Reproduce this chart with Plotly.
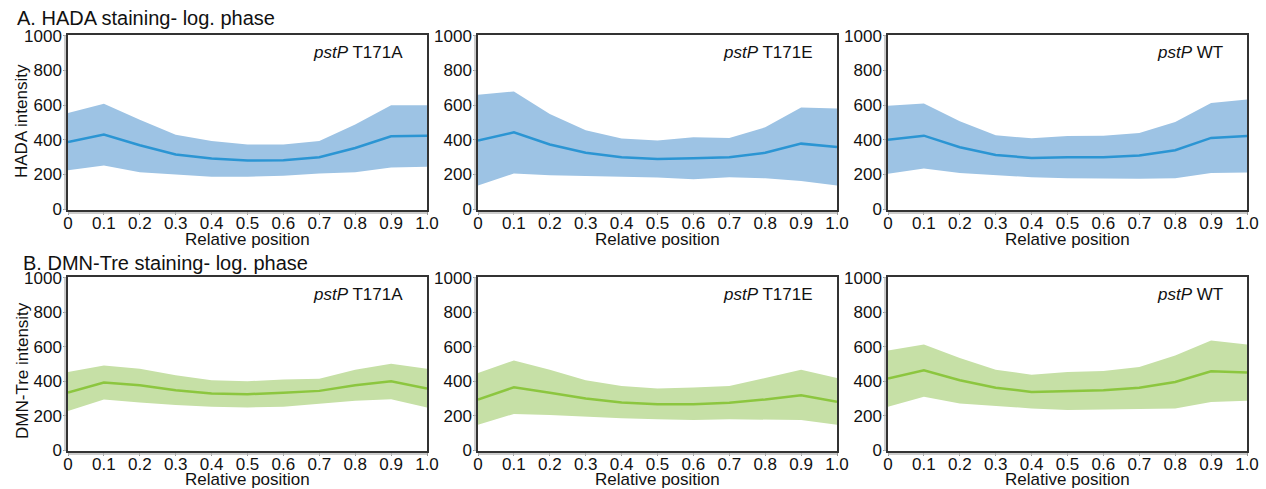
import plotly.graph_objects as go

positions = [0, 0.1, 0.2, 0.3, 0.4, 0.5, 0.6, 0.7, 0.8, 0.9, 1.0]
tick_labels = ["0", "0.1", "0.2", "0.3", "0.4", "0.5", "0.6", "0.7", "0.8", "0.9", "1.0"]
strains = ["T171A", "T171E", "WT"]

# HADA staining (row A)
hada_t171a_mean = [388, 430, 369, 315, 292, 280, 282, 300, 353, 420, 423]
hada_t171a_upper = [555, 608, 516, 430, 393, 373, 373, 393, 488, 600, 600]
hada_t171a_lower = [225, 252, 213, 200, 187, 187, 192, 206, 213, 240, 244]

hada_t171e_mean = [396, 443, 373, 325, 300, 290, 294, 300, 325, 378, 358]
hada_t171e_upper = [660, 679, 549, 455, 407, 396, 415, 411, 472, 587, 581]
hada_t171e_lower = [137, 206, 196, 192, 188, 182, 173, 184, 178, 163, 137]

hada_wt_mean = [401, 424, 357, 313, 295, 300, 300, 309, 340, 411, 422]
hada_wt_upper = [597, 610, 507, 426, 409, 422, 424, 439, 503, 612, 633]
hada_wt_lower = [204, 234, 208, 196, 184, 178, 176, 175, 178, 208, 211]

# DMN-Tre staining (row B)
dmn_t171a_mean = [335, 392, 377, 348, 329, 325, 333, 344, 377, 400, 358]
dmn_t171a_upper = [454, 492, 473, 435, 406, 400, 410, 415, 467, 502, 473]
dmn_t171a_lower = [227, 294, 277, 262, 252, 248, 252, 271, 287, 296, 248]

dmn_t171e_mean = [294, 365, 333, 300, 277, 267, 267, 275, 294, 319, 281]
dmn_t171e_upper = [448, 521, 467, 406, 373, 358, 363, 373, 419, 467, 419]
dmn_t171e_lower = [148, 210, 204, 194, 185, 179, 175, 179, 177, 175, 148]

dmn_wt_mean = [415, 463, 406, 362, 338, 342, 348, 362, 396, 458, 450]
dmn_wt_upper = [579, 613, 535, 467, 438, 454, 460, 483, 550, 637, 613]
dmn_wt_lower = [252, 310, 271, 256, 242, 233, 237, 237, 242, 279, 287]

rows = [
    dict(title="A. HADA staining- log. phase", ylabel="HADA intensity",
         line="#2B95D3", fill="#9DC3E4",
         data=[(hada_t171a_mean, hada_t171a_upper, hada_t171a_lower),
               (hada_t171e_mean, hada_t171e_upper, hada_t171e_lower),
               (hada_wt_mean, hada_wt_upper, hada_wt_lower)]),
    dict(title="B. DMN-Tre staining- log. phase", ylabel="DMN-Tre intensity",
         line="#8CC63F", fill="#C6E0A6",
         data=[(dmn_t171a_mean, dmn_t171a_upper, dmn_t171a_lower),
               (dmn_t171e_mean, dmn_t171e_upper, dmn_t171e_lower),
               (dmn_wt_mean, dmn_wt_upper, dmn_wt_lower)]),
]

W, H = 1266, 489
col_px = [(68, 427), (478, 837), (888, 1247)]
row_px = [(35, 210), (277, 451)]
title_pos = [(15, 18), (21, 263)]
xtitle_y = [239, 479]
ytitle_x = 22
ytitle_y = [121, 371]

FONT = "Liberation Sans, Arial, sans-serif"
TXT = "#111111"
fig = go.Figure()
annotations = []
shapes = []

k = 0
for r, row in enumerate(rows):
    top, bot = row_px[r]
    ydom = [1 - bot / H, 1 - top / H]
    for c in range(3):
        k += 1
        xa = "x" if k == 1 else f"x{k}"
        ya = "y" if k == 1 else f"y{k}"
        mean, upper, lower = row["data"][c]
        fig.add_trace(go.Scatter(x=positions, y=lower, mode="lines", line=dict(width=0, color=row["fill"]),
                                 showlegend=False, hoverinfo="skip", xaxis=xa, yaxis=ya))
        fig.add_trace(go.Scatter(x=positions, y=upper, mode="lines", line=dict(width=0, color=row["fill"]),
                                 fill="tonexty", fillcolor=row["fill"], showlegend=False,
                                 hoverinfo="skip", xaxis=xa, yaxis=ya))
        fig.add_trace(go.Scatter(x=positions, y=mean, mode="lines", line=dict(width=2.5, color=row["line"]),
                                 showlegend=False, xaxis=xa, yaxis=ya))
        l, rr = col_px[c]
        xdom = [l / W, rr / W]
        axkey = "xaxis" if k == 1 else f"xaxis{k}"
        aykey = "yaxis" if k == 1 else f"yaxis{k}"
        fig.layout[axkey] = dict(
            domain=xdom, anchor=ya, range=[0, 1.0], tickvals=positions, ticktext=tick_labels,
            automargin=False,
            showgrid=False, zeroline=False, showline=True, linecolor="#333333", linewidth=1.5,
            mirror=True, ticks="outside", ticklen=3, tickcolor="#999999",
            ticklabelstandoff=-6,
            tickfont=dict(family=FONT, size=17, color=TXT),
        )
        fig.layout[aykey] = dict(
            domain=ydom, anchor=xa, range=[-5, 1005], tickvals=[0, 200, 400, 600, 800, 1000],
            automargin=False,
            showgrid=False, zeroline=False, showline=True, linecolor="#333333", linewidth=1.5,
            mirror=True, ticks="outside", ticklen=3, tickcolor="#999999",
            ticklabelstandoff=-2,
            tickfont=dict(family=FONT, size=17, color=TXT),
        )
        # light grey double axis band at left and bottom
        shapes.append(dict(type="line", xref=f"{xa} domain", yref=f"{ya} domain",
                           x0=-3 / (rr - l), x1=-3 / (rr - l), y0=0, y1=1,
                           line=dict(color="#BBBBBB", width=1.5)))
        shapes.append(dict(type="line", xref=f"{xa} domain", yref=f"{ya} domain",
                           x0=0, x1=1, y0=-3 / (bot - top), y1=-3 / (bot - top),
                           line=dict(color="#BBBBBB", width=1.5)))
        annotations.append(dict(
            text=f"<i>pstP</i> {strains[c]}", xref=f"{xa} domain", yref=f"{ya} domain",
            x=0.94, y=0.9, xanchor="right", yanchor="middle", showarrow=False,
            font=dict(family=FONT, size=17, color=TXT)))
        annotations.append(dict(
            text="Relative position", xref="paper", yref="paper",
            x=(l + rr) / 2 / W, y=1 - xtitle_y[r] / H, xanchor="center", yanchor="middle",
            showarrow=False, font=dict(family=FONT, size=17, color=TXT)))
    annotations.append(dict(
        text=row["ylabel"], xref="paper", yref="paper", x=ytitle_x / W, y=1 - ytitle_y[r] / H,
        xanchor="center", yanchor="middle", textangle=-90, showarrow=False,
        font=dict(family=FONT, size=17, color=TXT)))
    tx, ty = title_pos[r]
    annotations.append(dict(
        text=row["title"], xref="paper", yref="paper", x=tx / W, y=1 - ty / H,
        xanchor="left", yanchor="middle", showarrow=False,
        font=dict(family=FONT, size=20, color=TXT)))

fig.update_layout(
    width=W, height=H, margin=dict(l=0, r=0, t=0, b=0),
    paper_bgcolor="white", plot_bgcolor="white",
    annotations=annotations, shapes=shapes, showlegend=False,
    font=dict(family=FONT),
)
fig.write_html("out.html", config={"displayModeBar": False},
               post_script="document.body.style.margin='0';document.body.style.overflow='hidden';")
